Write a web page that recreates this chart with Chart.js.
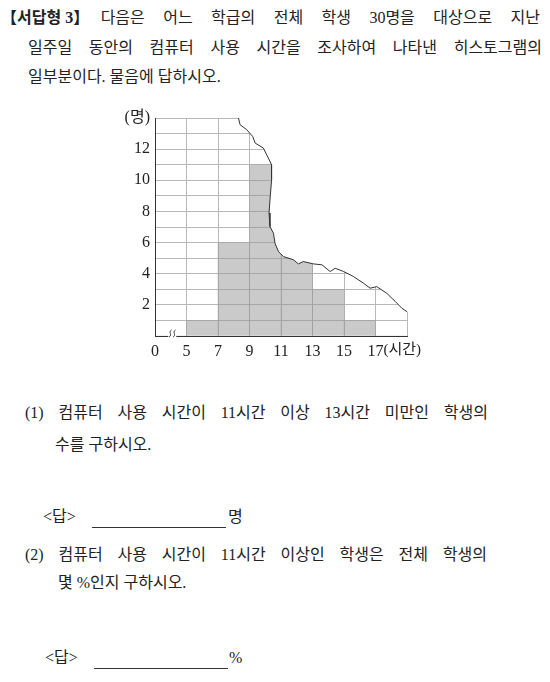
<!DOCTYPE html>
<html lang="ko">
<head>
<meta charset="UTF-8">
<title>히스토그램</title>
<script src="https://cdn.jsdelivr.net/npm/chart.js"></script>
<style>
    body {
        margin: 0;
        width: 550px;
        height: 682px;
        position: relative;
        background: #fff;
        color: #222;
        font-family: 'Liberation Serif', 'Noto Sans CJK KR', serif;
        overflow: hidden;
    }
    .line {
        position: absolute;
        font-size: 16px;
        line-height: 22px;
        height: 22px;
        white-space: nowrap;
    }
    .just {
        text-align: justify;
        text-align-last: justify;
        white-space: normal;
    }
    .tag {
        display: inline-block;
        white-space: nowrap;
        text-align: left;
        text-align-last: auto;
    }
    .lb { margin-left: -7px; }
    .rb { margin-right: -7px; }
    .blank {
        position: absolute;
        border-bottom: 1px solid #333;
    }
    #chartBox {
        position: absolute;
        left: 100px;
        top: 100px;
        width: 330px;
        height: 270px;
    }
</style>
</head>
<body>
    <div class="line just" style="left:8px; top:7px; width:532px;"><b class="tag"><span class="lb">【</span>서답형 3<span class="rb">】</span></b> 다음은 어느 학급의 전체 학생 30명을 대상으로 지난</div>
    <div class="line just" style="left:28px; top:37px; width:514px;">일주일 동안의 컴퓨터 사용 시간을 조사하여 나타낸 히스토그램의</div>
    <div class="line" style="left:28px; top:66px;">일부분이다. 물음에 답하시오.</div>

    <div id="chartBox"><canvas id="hist"></canvas></div>

    <div class="line just" style="left:25px; top:402px; width:463px;">(1) 컴퓨터 사용 시간이 11시간 이상 13시간 미만인 학생의</div>
    <div class="line" style="left:55px; top:434px;">수를 구하시오.</div>
    <div class="line" style="left:43px; top:506px;">&lt;답&gt;</div>
    <div class="blank" style="left:92px; top:527px; width:134px;"></div>
    <div class="line" style="left:228px; top:506px;">명</div>

    <div class="line just" style="left:25px; top:544px; width:462px;">(2) 컴퓨터 사용 시간이 11시간 이상인 학생은 전체 학생의</div>
    <div class="line" style="left:58px; top:572px;">몇 %인지 구하시오.</div>
    <div class="line" style="left:45px; top:647px;">&lt;답&gt;</div>
    <div class="blank" style="left:94px; top:668px; width:134px;"></div>
    <div class="line" style="left:229px; top:647px;">%</div>

<script>
    // 계급 경계 (0~5 는 생략 표시된 칸)
    const binEdges = ['0', '5', '7', '9', '11', '13', '15', '17'];
    // 각 계급의 학생 수: 0~5, 5~7, 7~9, 9~11, 11~13, 13~15, 15~17, 17~19
    const binCounts = [0, 1, 6, 11, 8, 3, 1, 0];
    const yTickLabels = [2, 4, 6, 8, 10, 12];
    const yUnit = '(명)';
    const xUnit = '(시간)';
    const yMax = 14;

    // 찢어진 부분의 경계 (칸 번호, 학생 수)
    const tearX = [2.65, 2.7, 2.91, 3.1, 3.18, 3.44, 3.58, 3.7, 3.7, 3.66, 3.62, 3.65, 3.76, 3.81, 3.92, 4.08, 4.4, 4.55, 4.71, 5.03, 5.3, 5.56, 5.72, 5.99, 6.3, 6.62, 6.83, 7.04, 7.36, 7.63, 7.84, 8.0];
    const tearY = [14, 13.57, 13.25, 12.82, 12.39, 12.07, 11.5, 11.0, 10.0, 9.0, 7.9, 7.03, 6.6, 5.96, 5.42, 5.1, 4.89, 4.63, 4.78, 4.63, 4.57, 4.14, 4.35, 4.14, 3.82, 3.39, 3.07, 3.17, 2.74, 2.21, 1.78, 1.56];

    const serif = "'Liberation Serif', 'Noto Sans CJK KR', serif";

    // 찢어진 선 바깥쪽을 흰색으로 가림
    const tearMask = {
        id: 'tearMask',
        beforeDatasetDraw(chart, args) {
            if (args.index !== 0) return;
            const pts = args.meta.data;
            const area = chart.chartArea;
            const ctx = chart.ctx;
            ctx.save();
            ctx.beginPath();
            ctx.moveTo(pts[0].x, area.top - 2);
            pts.forEach(p => ctx.lineTo(p.x, p.y));
            ctx.lineTo(area.right + 2, pts[pts.length - 1].y);
            ctx.lineTo(area.right + 2, area.top - 2);
            ctx.closePath();
            ctx.fillStyle = '#fff';
            ctx.fill();
            ctx.restore();
        }
    };

    // x 축의 생략 표시와 단위
    const extras = {
        id: 'extras',
        afterDraw(chart) {
            const ctx = chart.ctx;
            const xs = chart.scales.x;
            const ys = chart.scales.y;
            const bx = xs.getPixelForValue(0.55);
            const by = ys.bottom;
            ctx.save();
            ctx.fillStyle = '#fff';
            ctx.fillRect(bx - 4, by - 2, 8, 4);
            ctx.strokeStyle = '#333';
            ctx.lineWidth = 1;
            [-2, 2].forEach(d => {
                ctx.beginPath();
                ctx.moveTo(bx + d + 1.2, by - 6);
                ctx.bezierCurveTo(bx + d - 2.5, by - 4, bx + d + 2.5, by - 1, bx + d - 1.2, by + 1);
                ctx.stroke();
            });
            ctx.fillStyle = '#222';
            ctx.font = '15px ' + serif;
            ctx.textAlign = 'left';
            ctx.textBaseline = 'middle';
            ctx.fillText(xUnit, xs.getPixelForValue(7) + 8, by + 14);
            ctx.restore();
        }
    };

    new Chart(document.getElementById('hist'), {
        type: 'bar',
        data: {
            datasets: [
                {
                    type: 'line',
                    data: tearX.map((x, i) => ({ x: x, y: tearY[i] })),
                    borderColor: '#333',
                    borderWidth: 1,
                    fill: false,
                    pointRadius: 0,
                    tension: 0,
                    order: 0
                },
                {
                    type: 'bar',
                    data: binCounts.map((c, i) => ({ x: i + 0.5, y: c })),
                    backgroundColor: 'rgba(150, 150, 150, 0.5)',
                    borderWidth: 0,
                    barPercentage: 1,
                    categoryPercentage: 1,
                    order: 1
                }
            ]
        },
        options: {
            responsive: true,
            maintainAspectRatio: false,
            animation: false,
            events: [],
            layout: { padding: { top: 18, right: 23, left: 0, bottom: 0 } },
            plugins: {
                legend: { display: false },
                tooltip: { enabled: false }
            },
            scales: {
                x: {
                    type: 'linear',
                    offset: false,
                    min: 0,
                    max: binEdges.length,
                    afterFit: s => { s.height = 34; },
                    grid: { color: '#b8b8b8', drawTicks: false, offset: false },
                    border: { color: '#333', width: 1 },
                    ticks: {
                        stepSize: 1,
                        padding: 6,
                        color: '#222',
                        font: { family: serif, size: 16 },
                        maxRotation: 0,
                        autoSkip: false,
                        callback: v => binEdges[v] !== undefined ? binEdges[v] : ''
                    }
                },
                y: {
                    type: 'linear',
                    min: 0,
                    max: yMax,
                    afterFit: s => { s.width = 55; },
                    grid: { color: '#b8b8b8', drawTicks: false },
                    border: { color: '#333', width: 1 },
                    ticks: {
                        stepSize: 1,
                        padding: 5,
                        color: '#222',
                        font: { family: serif, size: 16 },
                        autoSkip: false,
                        callback: v => v === yMax ? yUnit : (yTickLabels.includes(v) ? String(v) : '')
                    }
                }
            }
        },
        plugins: [tearMask, extras]
    });
</script>
</body>
</html>
